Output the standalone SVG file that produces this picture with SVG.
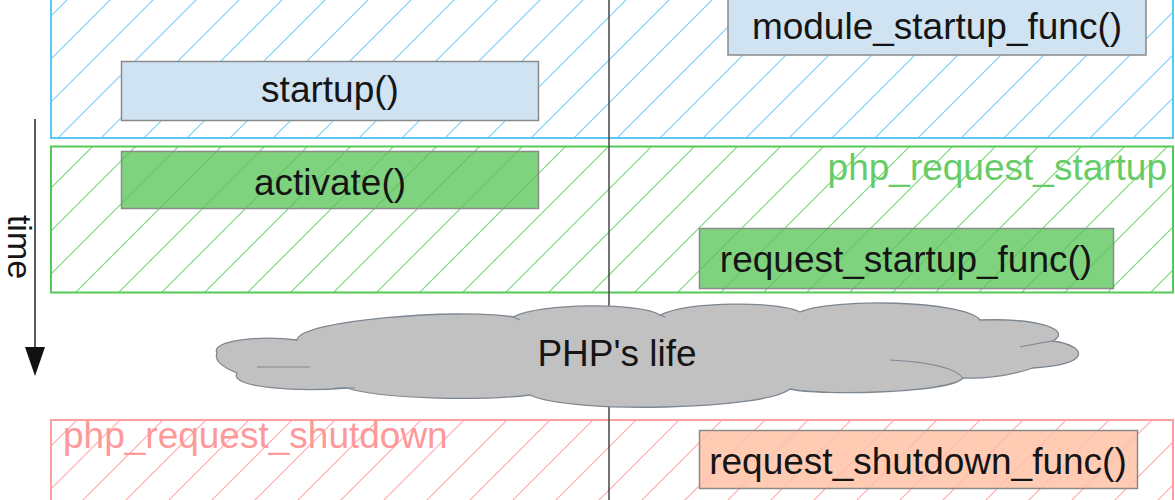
<svg xmlns="http://www.w3.org/2000/svg" width="1175" height="500" viewBox="0 0 1175 500">
<style>
  text { font-family: "Liberation Sans", Arial, sans-serif; font-size: 37px; }
  .lbl { fill: #151515; text-anchor: middle; }
  .frame { stroke-width: 2; }
  .box { stroke: #8a8a8a; stroke-width: 1.5; }
</style>
<defs>
  <pattern id="hBlue" patternUnits="userSpaceOnUse" width="43" height="43" patternTransform="translate(24,0)">
    <path d="M-2,2 L2,-2 M0,43 L43,0 M41,45 L45,41" stroke="#7fd0fa" stroke-width="1.2"/>
  </pattern>
  <pattern id="hGreen" patternUnits="userSpaceOnUse" width="43" height="43" patternTransform="translate(24,0)">
    <path d="M-2,2 L2,-2 M0,43 L43,0 M41,45 L45,41" stroke="#7ad77a" stroke-width="1.2"/>
  </pattern>
  <pattern id="hGreenDark" patternUnits="userSpaceOnUse" width="43" height="43" patternTransform="translate(24,0)">
    <path d="M-2,2 L2,-2 M0,43 L43,0 M41,45 L45,41" stroke="#4cbf4c" stroke-width="1.2"/>
  </pattern>
  <pattern id="hRed" patternUnits="userSpaceOnUse" width="43" height="43" patternTransform="translate(24,0)">
    <path d="M-2,2 L2,-2 M0,43 L43,0 M41,45 L45,41" stroke="#ffaaaa" stroke-width="1.2"/>
  </pattern>
</defs>
<rect width="1175" height="500" fill="#ffffff"/>

<g id="module-startup-frame">
  <rect class="frame" x="51" y="-10" width="1122" height="148" fill="url(#hBlue)" stroke="#5cc6f7"/>
</g>
<g id="request-startup-frame">
  <rect class="frame" x="51" y="146.5" width="1122" height="146" fill="url(#hGreen)" stroke="#55c955"/>
  <text x="1167" y="180" fill="#66cc66" text-anchor="end">php_request_startup</text>
</g>
<g id="request-shutdown-frame">
  <rect class="frame" x="51" y="420" width="1122" height="100" fill="url(#hRed)" stroke="#ff9e9e"/>
  <text x="63" y="448" fill="#ff9999">php_request_shutdown</text>
</g>

<g id="connectors">
  <line x1="609" y1="0" x2="609" y2="500" stroke="#454545" stroke-width="1.5"/>
  <line x1="35" y1="119" x2="35" y2="350" stroke="#222" stroke-width="1.5"/>
  <path d="M25,347 L45,347 L35,376 Z" fill="#111"/>
</g>

<g id="time-label">
  <text transform="translate(8,247) rotate(90)" fill="#151515" text-anchor="middle" style="font-size:34px">time</text>
</g>

<g id="module_startup_func">
  <rect class="box" x="728" y="-5" width="418" height="60" fill="#cfe3f3"/>
  <text class="lbl" x="937" y="39">module_startup_func()</text>
</g>
<g id="startup">
  <rect class="box" x="121.5" y="61.5" width="417" height="59" fill="#cfe3f3"/>
  <text class="lbl" x="330" y="102">startup()</text>
</g>
<g id="activate">
  <rect class="box" x="121.5" y="151.5" width="417" height="57" fill="#7fd37f"/>
  <rect x="122" y="152" width="416" height="56" fill="url(#hGreenDark)" opacity="0.6"/>
  <text class="lbl" x="330" y="195">activate()</text>
</g>
<g id="request_startup_func">
  <rect class="box" x="699.5" y="228.5" width="414" height="60" fill="#7fd37f"/>
  <rect x="700" y="229" width="413" height="59" fill="url(#hGreenDark)" opacity="0.6"/>
  <text class="lbl" x="906" y="272">request_startup_func()</text>
</g>
<g id="request_shutdown_func">
  <rect class="box" x="699.5" y="430.5" width="438" height="58" fill="#ffcbb3"/>
  <rect x="700" y="431" width="437" height="57" fill="url(#hRed)" opacity="0.5"/>
  <text class="lbl" x="918" y="474">request_shutdown_func()</text>
</g>

<g id="php-life">
  <path d="M217,353 C210,341 258,335 297,340 C300,320 460,308 513,317 C540,303 640,302 660,315 C690,301 780,301 800,312 C830,298 965,300 980,320 C1040,318 1072,330 1053,341 C1088,346 1092,365 1033,368 C1015,374 990,379 963,378 C950,393 820,396 790,389 C765,410 570,414 530,395 C480,401 380,399 347,388 C300,392 228,388 237,373 C222,367 214,360 217,353 Z" fill="#c1c1c1" stroke="#7d8790" stroke-width="1.3"/>
  <path d="M257,367 L310,367 M335,388 L355,388 M890,360 C930,362 955,368 963,378 M1020,347 C1035,344 1045,342 1053,341 M513,317 L520,320 M660,315 L665,317" fill="none" stroke="#7d8790" stroke-width="1.2"/>
  <text class="lbl" x="617" y="366">PHP's life</text>
</g>
</svg>
